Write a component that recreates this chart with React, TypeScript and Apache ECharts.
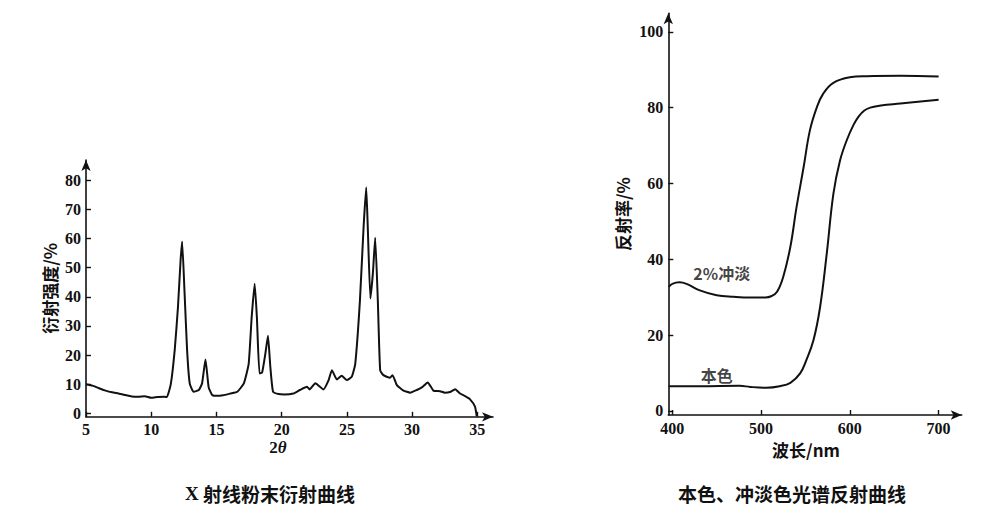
import React, { useEffect, useRef } from "react";
import * as echarts from "echarts";

// ---- Left chart: X-ray powder diffraction ----
const XRD_2THETA = [
  5.0, 5.5, 6.0, 6.5, 7.0, 7.5, 8.0, 8.5, 9.0, 9.5, 10.0, 10.5, 11.0, 11.2, 11.5, 11.8, 12.05,
  12.25, 12.37, 12.55, 12.75, 12.95, 13.25, 13.65, 13.9, 14.16, 14.4, 14.67, 15.05, 15.5, 16.07,
  16.6, 17.1, 17.47, 17.7, 17.93, 18.1, 18.3, 18.5, 18.75, 18.95, 19.13, 19.34, 19.77, 20.2, 20.9,
  21.4, 21.94, 22.14, 22.58, 23.2, 23.6, 23.85, 24.23, 24.6, 25.0, 25.38, 25.64, 26.0, 26.28, 26.48,
  26.6, 26.8, 26.99, 27.17, 27.37, 27.55, 27.8, 28.3, 28.5, 28.83, 29.34, 29.85, 30.36, 30.74, 31.2,
  31.63, 32.14, 32.5, 32.9, 33.3, 33.67, 34.06, 34.44, 34.82, 34.95,
];
const XRD_INTENSITY = [
  10.0, 9.5, 8.6, 7.8, 7.2, 6.8, 6.3, 5.8, 5.7, 5.9, 5.3, 5.6, 5.7, 5.6, 10.0, 21.7, 36.5,
  52.5, 59.0, 42.0, 21.7, 10.3, 7.4, 8.0, 10.3, 18.5, 9.0, 6.3, 6.0, 6.2, 6.8,
  7.4, 10.3, 17.0, 33.0, 44.5, 33.0, 13.7, 14.0, 20.5, 26.6, 16.0, 7.4, 6.6, 6.5, 6.8,
  8.0, 9.1, 8.2, 10.3, 8.2, 11.4, 14.8, 11.6, 12.9, 11.4, 12.6, 17.0, 38.8, 64.0, 77.6,
  64.0, 39.4, 48.0, 60.3, 38.8, 14.8, 13.1, 12.2, 13.1, 9.7, 7.8, 7.1, 8.0, 8.9, 10.6,
  7.8, 7.6, 7.1, 7.3, 8.3, 6.8, 5.9, 4.8, 2.3, -1.0,
];
const XRD_X_TICKS = [5, 10, 15, 20, 25, 30, 35];
const XRD_Y_TICKS = [0, 10, 20, 30, 40, 50, 60, 70, 80];

// ---- Right chart: spectral reflectance ----
const WL_TINT = [
  396, 400, 408, 416, 431, 450, 469, 488, 505, 512, 518, 525, 533, 540, 548, 555, 563, 570, 581,
  600, 619, 657, 700,
];
const REF_TINT = [
  32.7, 33.5, 33.9, 33.5, 31.8, 30.5, 30.1, 29.9, 29.9, 30.3, 31.4, 35.4, 43.3, 53.8, 64.4, 74.0,
  80.2, 83.7, 86.5, 88.0, 88.3, 88.4, 88.2,
];
const WL_BASE = [
  396, 431, 476, 488, 506, 521, 533, 544, 551, 559, 566.5, 574, 581.5, 589, 596.5, 604, 610, 616,
  623, 635, 657, 700,
];
const REF_BASE = [
  6.5, 6.5, 6.6, 6.3, 6.1, 6.5, 7.4, 9.9, 13.4, 18.6, 27.4, 41.5, 57.3, 66.1, 71.4, 75.4, 77.7, 79.2,
  80.0, 80.6, 81.1, 82.1,
];
const SPEC_X_TICKS = [400, 500, 600, 700];
const SPEC_Y_TICKS = [0, 20, 40, 60, 80, 100];
const CURVE_NAMES = ["2%冲淡", "本色"];
const CURVE_LABEL_WL = [455.7, 450];
const CURVE_LABEL_REF = [36.3, 9.4];

const INK = "#111";
const SERIF = "'Liberation Serif', 'Times New Roman', serif";
const CJK = "'Noto Sans CJK SC', sans-serif";

function axisCommon(ticks: number[]) {
  return {
    axisLine: {
      onZero: false,
      lineStyle: { color: INK, width: 1.6 },
      symbol: ["none", "arrow"],
      symbolSize: [7, 11],
    },
    axisTick: { inside: true, length: 5, lineStyle: { color: INK, width: 1.4 }, customValues: ticks },
    axisLabel: {
      customValues: ticks,
      color: INK,
      fontFamily: SERIF,
      fontWeight: "bold",
      fontSize: 16,
      margin: 5,
    },
    splitLine: { show: false },
  };
}

export default function App() {
  const ref = useRef<HTMLDivElement>(null);
  useEffect(() => {
    if (!ref.current) return;
    const chart = echarts.init(ref.current, undefined, { renderer: "svg" });
    const nameStyle = { color: INK, fontFamily: CJK, fontWeight: "bold", fontSize: 17 };
    chart.setOption({
      animation: false,
      backgroundColor: "#ffffff",
      title: [
        {
          text: "{x|X} 射线粉末衍射曲线",
          left: 265,
          top: 479,
          textAlign: "center",
          textStyle: {
            color: INK,
            fontFamily: CJK,
            fontWeight: "bold",
            fontSize: 19,
            rich: { x: { fontFamily: SERIF, fontWeight: "bold", fontSize: 19, color: INK } },
          },
        },
        {
          text: "本色、冲淡色光谱反射曲线",
          left: 787,
          top: 479,
          textAlign: "center",
          textStyle: { color: INK, fontFamily: CJK, fontWeight: "bold", fontSize: 19 },
        },
      ],
      grid: [
        { left: 86, top: 160, width: 407, height: 256.8 },
        { left: 668.3, top: 13.3, width: 293.4, height: 401.7 },
      ],
      xAxis: [
        {
          type: "value",
          gridIndex: 0,
          min: 5,
          max: 36.2,
          ...axisCommon(XRD_X_TICKS),
          name: "2{i|θ}",
          nameLocation: "middle",
          nameGap: 22,
          nameTextStyle: {
            ...nameStyle,
            fontFamily: SERIF,
            padding: [0, 23, 0, 0],
            rich: { i: { fontFamily: SERIF, fontStyle: "italic", fontWeight: "bold", fontSize: 17, color: INK } },
          },
        },
        {
          type: "value",
          gridIndex: 1,
          min: 395.5,
          max: 726,
          ...axisCommon(SPEC_X_TICKS),
          name: "波长/nm",
          nameLocation: "middle",
          nameGap: 24,
          nameTextStyle: { ...nameStyle, padding: [0, 18, 0, 0] },
        },
      ],
      yAxis: [
        {
          type: "value",
          gridIndex: 0,
          min: -1.2,
          max: 87,
          ...axisCommon(XRD_Y_TICKS),
          name: "衍射强度/%",
          nameLocation: "middle",
          nameRotate: 90,
          nameGap: 28,
          nameTextStyle: nameStyle,
        },
        {
          type: "value",
          gridIndex: 1,
          min: -1.1,
          max: 104.9,
          ...axisCommon(SPEC_Y_TICKS),
          name: "反射率/%",
          nameLocation: "middle",
          nameRotate: 90,
          nameGap: 37,
          nameTextStyle: nameStyle,
        },
      ],
      series: [
        {
          type: "line",
          xAxisIndex: 0,
          yAxisIndex: 0,
          data: XRD_2THETA.map((x, i) => [x, XRD_INTENSITY[i]]),
          showSymbol: false,
          symbol: "none",
          smooth: 0.15,
          lineStyle: { color: INK, width: 2 },
        },
        {
          type: "line",
          xAxisIndex: 1,
          yAxisIndex: 1,
          data: WL_TINT.map((x, i) => [x, REF_TINT[i]]),
          showSymbol: false,
          symbol: "none",
          smooth: 0.4,
          lineStyle: { color: INK, width: 2 },
        },
        {
          type: "line",
          xAxisIndex: 1,
          yAxisIndex: 1,
          data: WL_BASE.map((x, i) => [x, REF_BASE[i]]),
          showSymbol: false,
          symbol: "none",
          smooth: 0.4,
          lineStyle: { color: INK, width: 2 },
        },
        {
          type: "scatter",
          xAxisIndex: 1,
          yAxisIndex: 1,
          symbolSize: 0,
          data: CURVE_NAMES.map((n, i) => ({ name: n, value: [CURVE_LABEL_WL[i], CURVE_LABEL_REF[i]] })),
          label: {
            show: true,
            position: "inside",
            formatter: "{b}",
            color: INK,
            fontFamily: CJK,
            fontWeight: "bold",
            fontSize: 16,
          },
        },
      ],
    });
    return () => chart.dispose();
  }, []);
  return (
    <div
      ref={ref}
      style={{ position: "absolute", left: 0, top: 0, width: 1000, height: 531, background: "#fff" }}
    />
  );
}
